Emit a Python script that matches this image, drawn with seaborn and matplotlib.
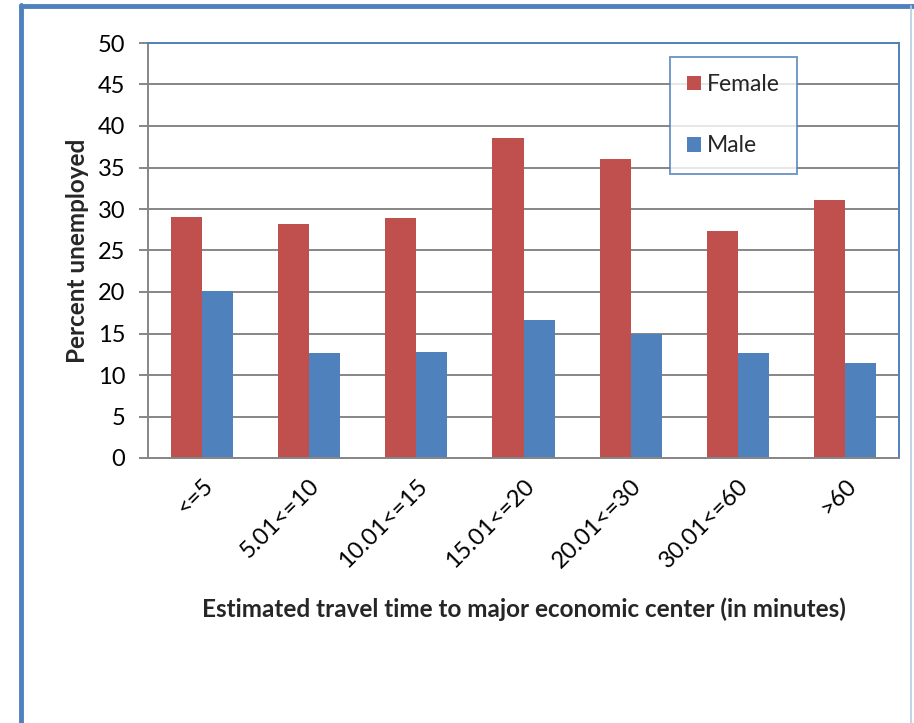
"""Percent unemployed by travel time to major economic center, by sex."""

import pandas as pd
import matplotlib.pyplot as plt
from matplotlib.lines import Line2D
import seaborn as sns

# ── DATA ──────────────────────────────────────────────────────────────────────

CATEGORIES = ['<=5', '5.01<=10', '10.01<=15', '15.01<=20',
              '20.01<=30', '30.01<=60', '>60']
FEMALE = [29.0, 28.2, 28.9, 38.6, 36.0, 27.3, 31.1]
MALE = [20.1, 12.7, 12.8, 16.6, 15.0, 12.6, 11.4]
SERIES = ['Female', 'Male']
Y_TICKS = [0, 5, 10, 15, 20, 25, 30, 35, 40, 45, 50]

RED = '#C0504D'
BLUE = '#4F81BD'
GRID = '#868686'

# ── PLOT ──────────────────────────────────────────────────────────────────────

df = pd.DataFrame({
    'travel': CATEGORIES * 2,
    'pct': FEMALE + MALE,
    'sex': [SERIES[0]] * len(CATEGORIES) + [SERIES[1]] * len(CATEGORIES),
})

sns.set_style('white')
plt.rcParams['font.family'] = ['Lato', 'DejaVu Sans']

fig = plt.figure(figsize=(9.14, 7.23), dpi=100)
ax = fig.add_axes([148 / 914, 1 - 458 / 723, 751 / 914, 415 / 723])

sns.barplot(data=df, x='travel', y='pct', hue='sex', order=CATEGORIES,
            hue_order=SERIES, palette=[RED, BLUE], saturation=1,
            width=0.58, gap=0, edgecolor='none', ax=ax)

ax.set_ylim(0, 50)
ax.set_yticks(Y_TICKS)
ax.set_xlim(-0.5, len(CATEGORIES) - 0.5)
ax.yaxis.grid(True, color=GRID, lw=1.4)
ax.set_axisbelow(True)

for side in ['left', 'bottom']:
    ax.spines[side].set_color(GRID)
    ax.spines[side].set_linewidth(1.4)
for side in ['top', 'right']:
    ax.spines[side].set_visible(True)
    ax.spines[side].set_color(BLUE)
    ax.spines[side].set_linewidth(1.4)

ax.tick_params(axis='y', which='major', left=True, length=6.5, width=1.4,
               color=GRID, pad=10, labelsize=17, labelcolor='black')
ax.tick_params(axis='x', which='major', bottom=False, pad=9, labelsize=17,
               labelcolor='black')
plt.setp(ax.get_xticklabels(), rotation=45, ha='right', va='top',
         rotation_mode='anchor')

ax.set_xlabel('Estimated travel time to major economic center (in minutes)',
              fontsize=17.5, fontweight='bold')
ax.set_ylabel('Percent unemployed', fontsize=17.5, fontweight='bold')
ax.xaxis.set_label_coords(0.5, -0.337)
ax.yaxis.set_label_coords(-0.079, 0.5)

leg = ax.legend(loc='upper left', bbox_to_anchor=(0.695, 0.966),
                frameon=True, fancybox=False, fontsize=16.5,
                handlelength=0.6, handleheight=0.6, handletextpad=0.25,
                labelspacing=1.75, borderpad=0.75, borderaxespad=0)
leg.get_frame().set_edgecolor(BLUE)
leg.get_frame().set_linewidth(1.4)

# outer chart frame (partly cut off on the right and bottom)
fig.add_artist(Line2D([21 / 914, 21 / 914], [-0.01, 1 - 5 / 723],
                      transform=fig.transFigure, color=BLUE, lw=3.5))
fig.add_artist(Line2D([21 / 914, 1.01], [1 - 6 / 723, 1 - 6 / 723],
                      transform=fig.transFigure, color=BLUE, lw=3.5))
fig.add_artist(Line2D([911 / 914, 911 / 914], [-0.01, 1 - 6 / 723],
                      transform=fig.transFigure, color='#B8CCE4', lw=1.2))

fig.savefig('out.png', dpi=100)
